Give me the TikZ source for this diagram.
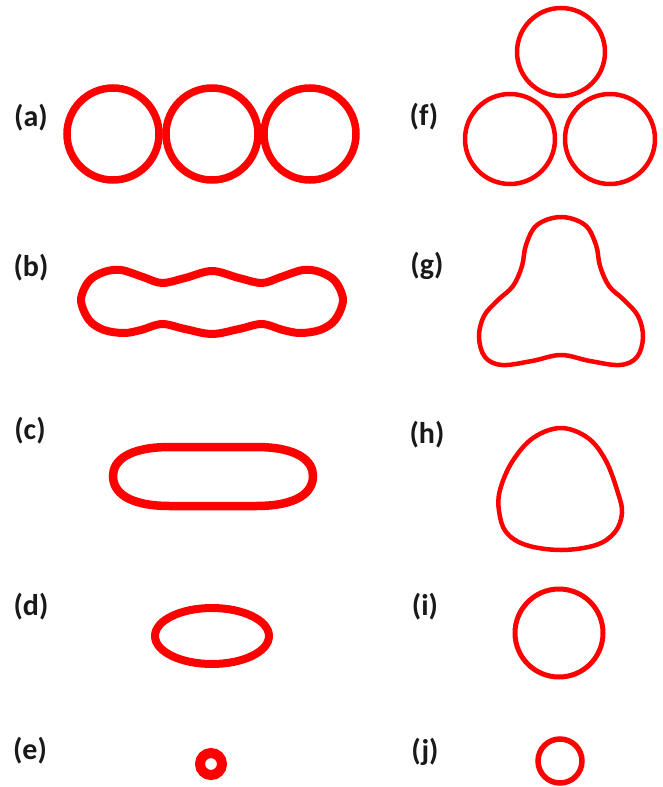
\documentclass[tikz,border=0pt]{standalone}
\usepackage{fontspec}
\setmainfont{Carlito}
\usepackage{tikz}
\tikzstyle{tag} = [font=\fontsize{30}{34}\selectfont\bfseries, text=black!90, inner sep=0pt]
\tikzstyle{ring} = [draw=red, line width=5pt]
\tikzstyle{fatring} = [draw=red, line width=7.5pt]

\begin{document}
\begin{tikzpicture}[x=1pt, y=-1pt]
        \useasboundingbox (0,0) rectangle (663,787);
        % Labels
        \node (la) [tag] at (31,118) {(a)};
        \node (lb) [tag] at (31,268) {(b)};
        \node (lc) [tag] at (30,431) {(c)};
        \node (ld) [tag] at (31,607) {(d)};
        \node (le) [tag] at (30,751) {(e)};
        \node (lf) [tag] at (424,117) {(f)};
        \node (lg) [tag] at (427,266) {(g)};
        \node (lh) [tag] at (427,435) {(h)};
        \node (li) [tag] at (425,607) {(i)};
        \node (lj) [tag] at (425,752) {(j)};

        % (a) three touching rings
        \draw [fatring] (113,134) circle[radius=46];
        \draw [fatring] (212,134) circle[radius=46];
        \draw [fatring] (310,134) circle[radius=46];

        % (b) wavy peanut
        \draw [fatring, line width=8pt] plot [smooth cycle, tension=0.55] coordinates {
          (81,300) (89,281) (104,272) (121,270) (143,277) (162,283) (185,278)
          (212,271) (239,278) (262,283) (281,277) (303,270) (320,272) (335,281)
          (343,300) (335,320) (320,330) (300,333) (283,330) (262,324) (239,329)
          (212,334) (185,329) (162,324) (141,330) (124,333) (104,330) (89,320)};

        % (c) stadium
        \draw [fatring, line width=8.5pt] (170,447) -- (256,447)
          .. controls (298,447) and (313,461) .. (313,476)
          .. controls (313,492) and (298,506) .. (256,506) -- (170,506)
          .. controls (128,506) and (113,492) .. (113,476)
          .. controls (113,461) and (128,447) .. (170,447) -- cycle;

        % (d) ellipse
        \draw [fatring, line width=8pt] (212,636) ellipse [x radius=57, y radius=28];

        % (e) tiny ring
        \draw [fatring, line width=10pt] (211,764) circle[radius=11];

        % (f) three rings in a triangle
        \draw [ring, line width=4.5pt] (561,52) circle[radius=44];
        \draw [ring, line width=4.5pt] (510,139) circle[radius=45];
        \draw [ring, line width=4.5pt] (610,139) circle[radius=45];

        % (g) trefoil
        \draw [ring, line width=4.5pt] plot [smooth cycle, tension=0.6] coordinates {
          (561,217) (585,225) (596,245) (600,266) (609,286) (624,300) (638,316)
          (643,337) (637,357) (620,365) (590,361) (561,355) (532,361) (502,365)
          (485,357) (479,337) (484,316) (498,300) (513,286) (522,266) (526,245)
          (537,225)};

        % (h) rounded triangle
        \draw [ring, line width=4.5pt] plot [smooth cycle, tension=0.6] coordinates {
          (561,428) (588,438) (606,461) (618,493) (622,513) (615,532) (596,545)
          (561,550) (526,545) (506,532) (499,511) (500,490) (512,462) (533,438)};

        % (i) and (j) rings
        \draw [ring] (559,633) circle[radius=44];
        \draw [ring, line width=5.5pt] (560,761) circle[radius=22];
    \end{tikzpicture}
\end{document}
